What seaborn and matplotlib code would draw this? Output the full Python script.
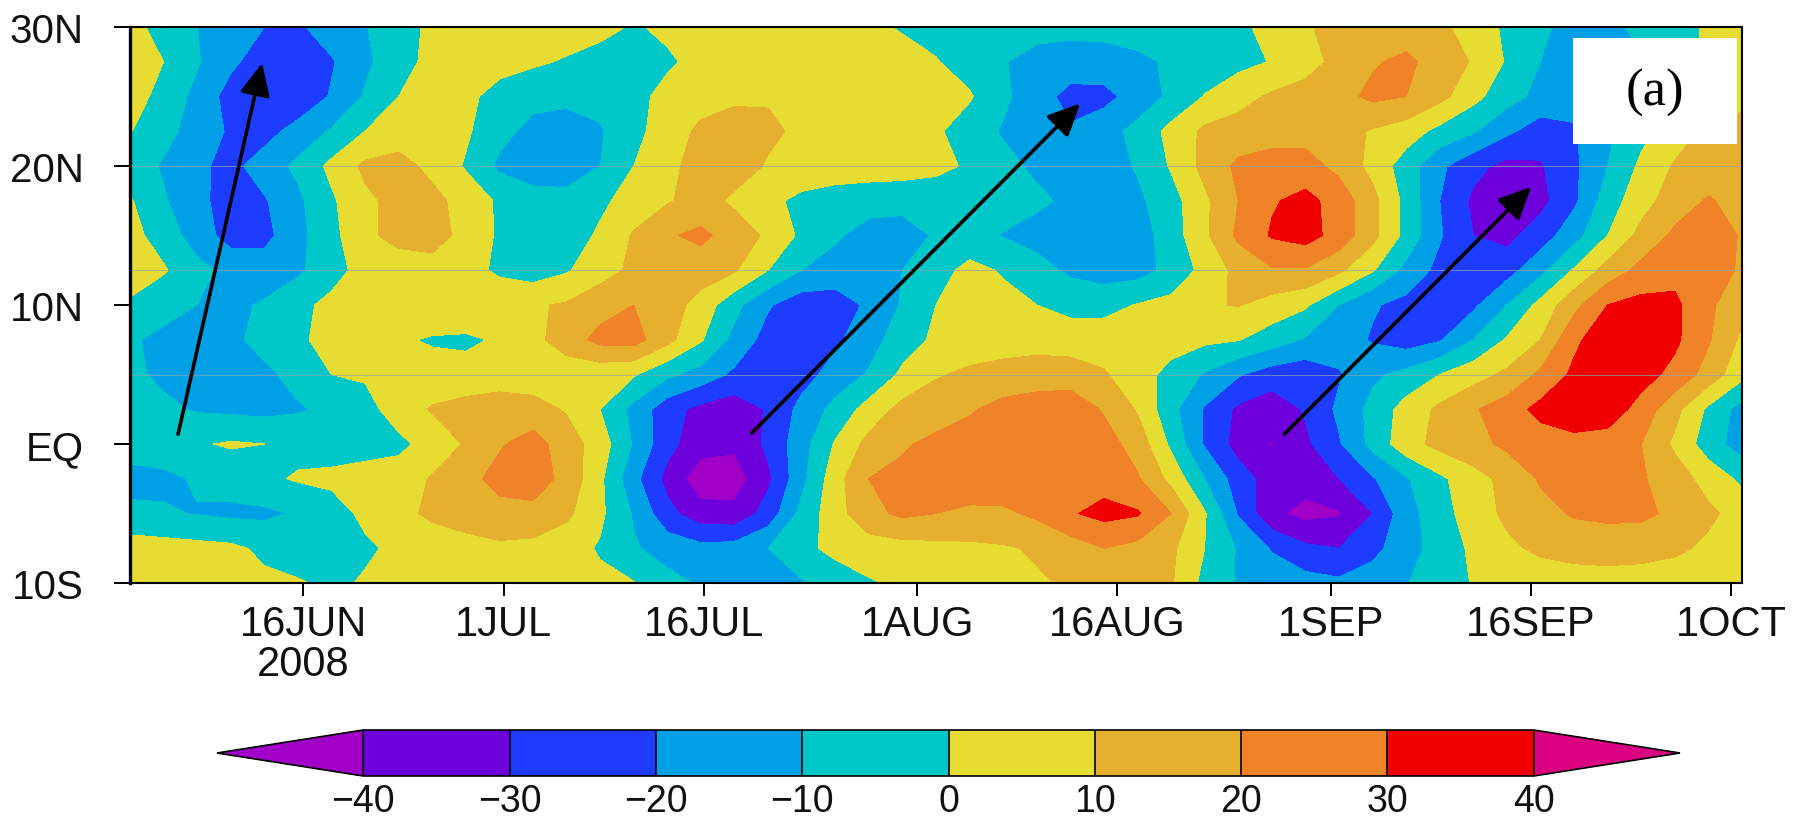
import numpy as np
import pandas as pd
import matplotlib
matplotlib.use("Agg")
import matplotlib.pyplot as plt
import seaborn as sns

# anomaly values, one list per latitude, 49 time steps
lat_30n = [3,-3.5,-10,-15,-20,-21.5,-15,-10.5,-4,2,5,7,7,5,3,-1,2,5,7,8,7,5,2,-1,-3,-5,-6,-7,-7,-7,-7,-6,-5,-2,3,9,13,15,15,12,6,-2,-9,-12,-12,-8,-3,1,5]
lat_27 = [7,0,-9,-18,-25,-28,-21,-12,-4,3,4,3,1.5,-1,-4,-5,-1.5,3,5,7,8,8,7,4,0.5,-4,-9.5,-13,-15,-14,-11.5,-9,-6,-3,0.5,6,13,19,22,16,9,-1,-10,-16,-16,-11,-4,2,7]
lat_25 = [4,-3,-13,-24,-28,-28,-19,-9,0,3,2,-3,-7,-8,-7,-3,3,6,8,9,9.5,9,8,7,5,1,-8,-16,-23,-23,-16,-8,0.5,6.5,11.5,14,17,22,20,13,3,-6,-13,-17,-20,-17,-10,-2,4]
lat_22 = [0.5,-7,-14,-21.5,-24,-16,-9,0,4,5,1.5,-7,-13,-14,-11,-3,5,12,15,12,8,7,6,5,1.5,-5,-11,-15,-19,-14,-7,3,12,14,15,16,14,9,5,-3,-9,-18,-25,-21,-12,-3,5,12,17]
lat_20n = [-5,-11,-18,-23,-15,-8,2.5,12,14,7,-1,-12,-17,-18,-10,0,8,13,15,9,8,7,6,5,3,-1.5,-7,-12,-15,-15,-9,1,13,22,25,24,17,7,-5,-18,-27,-33,-31,-22,-10,2,11,14,17]
lat_17 = [1,-9,-17,-25,-21,-12,-1.5,8,13,13,6,-1.5,-5,-5,-2,4,9,14,8,3,-3,-6,-7,-7,-7,-6,-6,-8,-12,-14,-12,-4,8,20,29,33,26,13,-3,-20,-32,-37,-33,-22,-5,6,15,21,16]
lat_15 = [3,-4,-15,-24,-23,-13,-3,8,13,14,7,-1.5,-6,-5,1.5,11,19,22,16,8,-2,-9,-13,-14,-9,-7,-10.5,-14,-18,-20,-15,-5,8,22,31,34,26,13,-3,-19,-30,-33,-25,-14,0,13,22,26,19]
lat_12 = [7,1,-7,-13,-15,-12,-3,3,5,6,4,-2,-5,-1,6,12,15,15,11,0,-10,-13,-14,-10,-4,3,-1,-6,-12,-15,-14,-7,3,13,19,19,12,1,-13,-23,-26,-24,-13,1,14,23,27,27,18]
lat_10n = [-2,-7,-10,-12,-9,-2,2,4,5,6,7,8,9,11,16,20,15,6,-7,-19,-26,-26,-18,-9,0,3,3,0,-3,-3,0.5,3,9,10.5,6,1.5,-10,-19,-23,-24,-22,-10,3,17,30,33,32,22,13]
lat_7 = [-9,-12,-14,-12,-7,-1,2,2,1,-0.8,-1.5,1,7,15,23,24,13,1,-13,-24,-27,-22,-14,-5,2,4,5,6,5,5,5,4,2,0.5,-5,-11,-15,-21,-25,-21,-10,1,10,28,36,38,32,21,8]
lat_5n = [-8,-12,-14,-14,-12,-7,0,1,2,3,3,4,4,4,3,1,-8,-14,-22,-27,-24,-16,-9,2,9,12,14,15,15,11,4,-3,-11,-19,-25,-27,-21,-12,-7,0,6,12,22,32,35,34,27,16,3]
lat_2 = [-5,-8,-11,-12,-13,-11,-8,-3,4,11,14,16,14,9,0,-13,-26,-33,-36,-29,-17,-7,4,13,16,19,23,25,26,19,9,-7,-21,-32,-36,-29,-18,-7,4,12,19,25,33,38,36,26,13,-2,-14]
lat_eq = [-6,-5,-1,1,0,-3,-4,-3,-2,3,11,19,24,15,5,-11,-27,-36,-38,-28,-14,1,13,19,22,24,26,27,28,24,16,-2,-21,-34,-40.5,-32,-21,-7,6,13,17,22,25,26,25,20,8,-5,-15]
lat_2s = [-13,-12,-9,-6,-2,1,2,3,4,11,17,23,25,17,2,-17,-33,-46,-45,-32,-13,6,20,22,24,26,27,28,28,26,21,7,-10,-25,-35,-36,-30,-21,-11,-2,6,13,21,24,25,21,15,6,-2]
lat_5s = [-8,-9,-10.5,-12,-12,-9,-4,2,7,12,15,17,17,12,2,-11,-27,-36,-37,-26,-7,6,17,22,20,18,18,22,29,33,31,20,1,-21,-38,-43,-41,-30,-14,-4,5,12,17,21,22,22,18,12,6]
lat_7s = [5,4,3,2,-2,-6,-7,-1.5,2,4,6,8,7,4,-1,-9,-14,-17,-16,-10,-3,3,5,6,7,8,9,11,15,20,17,12,0,-11,-21,-28,-30,-23,-14,-6,2,8,12,14,15,14,12,8,5]
lat_10s = [3,3,3,2,2,1,-2,1,2,3,3,4,4,3,2,0.5,-7,-11,-13,-13,-11,-6,-1,2,3,4,6,9,11,12,12,11,-3,-11,-13,-16,-18,-15,-10.5,-4,0.5,3,4,5,5,5,4,4,3]

lats = [30, 27.5, 25, 22.5, 20, 17.5, 15, 12.5, 10, 7.5, 5, 2.5, 0, -2.5, -5, -7.5, -10]
levels = [-40, -30, -20, -10, 0, 10, 20, 30, 40]
colors = ["#A000C8", "#6E00DC", "#1E3CFF", "#00A0E6", "#00C8C8",
          "#E6DC32", "#E6AF2D", "#F08228", "#F00000", "#DC0082"]

date_ticks = ["2008-06-16", "2008-07-01", "2008-07-16", "2008-08-01",
              "2008-08-16", "2008-09-01", "2008-09-16", "2008-10-01"]
date_labels = ["16JUN\n2008", "1JUL", "16JUL", "1AUG", "16AUG", "1SEP", "16SEP", "1OCT"]
lat_ticks = [30, 20, 10, 0, -10]
lat_labels = ["30N", "20N", "10N", "EQ", "10S"]

# arrows: start day, start lat, end day, end lat (days after 3 June)
arrows = [(3.6, 0.7, 9.9, 27.4), (46.6, 0.8, 71.2, 24.5), (86.5, 0.7, 105.0, 18.5)]

W, H = 1802, 820
start = pd.Timestamp("2008-06-03")
last_day = 120.8

sns.set_theme(style="ticks")
plt.rcParams["font.family"] = ["Liberation Sans", "DejaVu Sans"]

grid = np.array([lat_30n, lat_27, lat_25, lat_22, lat_20n, lat_17, lat_15, lat_12, lat_10n,
                 lat_7, lat_5n, lat_2, lat_eq, lat_2s, lat_5s, lat_7s, lat_10s])
days = np.linspace(0, last_day, grid.shape[1])
df = pd.DataFrame(grid, index=lats, columns=days)

fig = plt.figure(figsize=(W / 100, H / 100), dpi=100)
ax = fig.add_axes([130 / W, 1 - 584 / H, 1612 / W, 556 / H])

palette = sns.color_palette(colors)
cf = ax.contourf(df.columns, df.index, df.values, levels=levels, colors=palette, extend="both")

# faint seams that run across the original panel
for seam in [20, 12.5, 5]:
    ax.axhline(seam, color="#8FA5B0", lw=0.7, alpha=0.7, zorder=2)

for x0, y0, x1, y1 in arrows:
    ax.annotate("", xy=(x1, y1), xytext=(x0, y0), zorder=4,
                arrowprops=dict(arrowstyle="-|>,head_length=0.7,head_width=0.33", color="black",
                                lw=2.6, mutation_scale=28, shrinkA=0, shrinkB=0))

ax.set_xlim(0, last_day)
ax.set_ylim(-10, 30)
ax.set_xticks([(pd.Timestamp(d) - start).days for d in date_ticks])
ax.set_xticklabels(date_labels, fontsize=30, linespacing=1.0)
ax.set_yticks(lat_ticks)
ax.set_yticklabels(lat_labels, fontsize=29)
ax.tick_params(axis="x", length=9, width=1.4, color="black", pad=6, labelcolor="#111111")
ax.tick_params(axis="y", length=11.5, width=1.4, color="black", pad=22, labelcolor="#111111")
for side in ax.spines.values():
    side.set_linewidth(1.5)
    side.set_color("black")
ax.spines["left"].set_linewidth(2.4)

# white box behind the panel letter
ax.add_patch(plt.Rectangle(((1573 - 130) / 1612, (584 - 145) / 556), 164 / 1612, 106 / 556,
                           transform=ax.transAxes, facecolor="white", edgecolor="none", zorder=5))
ax.text((1655 - 130) / 1612, (584 - 93) / 556, "(a)", transform=ax.transAxes, ha="center",
        va="center", fontsize=38, family=["Liberation Serif"], color="black", zorder=6)

cax = fig.add_axes([217 / W, 1 - 777 / H, 1463 / W, 46 / H])
cb = fig.colorbar(cf, cax=cax, orientation="horizontal", extend="both", extendfrac=0.125,
                  drawedges=True, ticks=levels)
cb.dividers.set_color("black")
cb.dividers.set_linewidth(1.2)
cb.outline.set_edgecolor("black")
cb.outline.set_linewidth(1.2)
cb.ax.tick_params(length=0, labelsize=27, pad=5, labelcolor="#111111")

fig.savefig("out.png", dpi=100)
